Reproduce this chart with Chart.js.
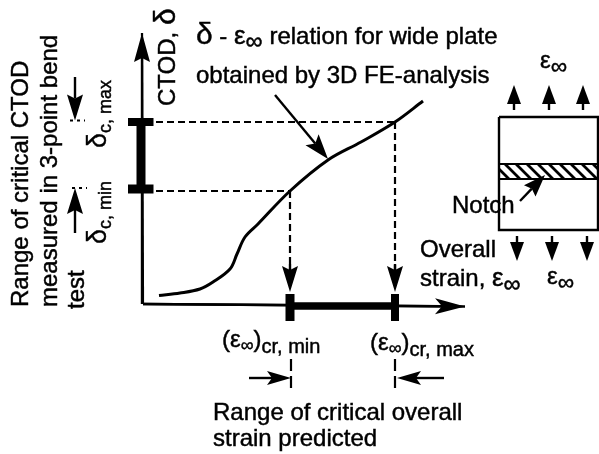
<!DOCTYPE html>
<html>
<head>
<meta charset="utf-8">
<script src="https://cdn.jsdelivr.net/npm/chart.js@4"></script>
<style>
  html, body { margin: 0; padding: 0; background: #fff; }
  #wrap { width: 599px; height: 454px; }
  #sketch { filter: blur(0.4px); }
</style>
</head>
<body>
<div id="wrap"><canvas id="sketch" width="599" height="454"></canvas></div>
<script>
// delta - strain curve for the wide plate, arbitrary units
const curveX = [16, 37, 57, 70, 87, 94, 102, 115, 147, 185, 218, 252, 280];
const curveY = [8.5, 11, 15, 22, 35, 50, 67, 80, 113, 144, 162, 182, 203];

// critical ranges
const strainCr = [147, 252];
const deltaCr = [113, 182];

const INK = "#000";
const FONT = '"Liberation Sans", Arial, sans-serif';

function line(xs, ys, width, dash) {
    return {
        data: xs.map((x, i) => ({ x: x, y: ys[i] })),
        showLine: true,
        borderColor: INK,
        borderWidth: width,
        borderDash: dash || [],
        pointRadius: 0,
        tension: 0,
        clip: false
    };
}

const curve = line(curveX, curveY, 3);
curve.tension = 0.35;

const datasets = [
    curve,
    // axes
    line([0, 322], [0, -2.5], 2.4),
    line([0, -1], [0, 271], 2.2),
    // range bars on the axes
    line([-2, -2], deltaCr, 9),
    line([-15, 10.5], [182, 182], 8),
    line([-15, 10.5], [115, 115], 9),
    line(strainCr, [-2, -2], 7.5),
    line([147, 147], [10, -17], 9),
    line([252, 252], [10, -17], 8),
    // projection lines
    line([13, 252], [182, 182], 2.2, [7, 4]),
    line([13, 147], [113, 113], 2.2, [7, 4]),
    line([147, 147], [113, 25], 2.2, [7, 4]),
    line([252, 252], [182, 25], 2.2, [7, 4]),
    // small ticks next to delta arrows
    line([-73, -58], [183.5, 183.5], 1.8, [3, 4]),
    line([-71, -56], [116, 116], 1.8, [3, 4]),
    // strain range drop lines
    line([148, 148], [-55, -88], 2.2, [12, 5]),
    line([252, 252], [-55, -87], 2.2, [12, 5]),
    // plate
    line([356, 455, 455, 356, 356], [187, 187, 74, 74, 187], 2.4),
    line([356, 455], [140, 140], 2.2),
    line([356, 455], [125, 125], 2.2)
];

// x0, y0 tail -> x1, y1 tip
const arrows = [
    [0, 0, 322, -2.5, 30, 8, 7],
    [-1, 0, -1, 271, 29, 8, 4],
    [147, 40, 147, 12, 26, 8, 4],
    [252, 40, 252, 12, 26, 8, 4],
    [-68, 227, -68, 183.5, 26, 8, 4],
    [-68, 71, -68, 116, 26, 8, 4],
    [132, 209, 185, 145, 25, 8.5, 5],
    [106, -74, 148, -74, 24, 7, 5],
    [301, -74, 254, -74, 24, 7, 5],
    [377, 103, 402, 129, 22, 8, 3],
    [371, 194, 371, 219, 19, 7, 0],
    [406, 194, 406, 219, 19, 7, 0],
    [440, 194, 440, 219, 19, 7, 0],
    [374, 68, 374, 43, 19, 7, 0],
    [409, 68, 409, 43, 19, 7, 0],
    [444, 68, 444, 43, 19, 7, 0]
];

function drawArrow(ctx, a, x, y) {
    const x0 = x(a[0]), y0 = y(a[1]), x1 = x(a[2]), y1 = y(a[3]);
    const len = Math.hypot(x1 - x0, y1 - y0);
    const ux = (x1 - x0) / len, uy = (y1 - y0) / len;
    const bx = x1 - ux * a[4], by = y1 - uy * a[4];
    ctx.beginPath();
    ctx.moveTo(x0, y0);
    ctx.lineTo(bx + ux * a[6], by + uy * a[6]);
    ctx.lineWidth = 2.4;
    ctx.strokeStyle = INK;
    ctx.stroke();
    ctx.beginPath();
    ctx.moveTo(x1, y1);
    ctx.lineTo(bx - uy * a[5], by + ux * a[5]);
    ctx.lineTo(bx + ux * a[6], by + uy * a[6]);
    ctx.lineTo(bx + uy * a[5], by - ux * a[5]);
    ctx.closePath();
    ctx.fillStyle = INK;
    ctx.fill();
}

// text runs: [string, size, baseline shift]
function runs(ctx, px, py, parts, rotated) {
    ctx.save();
    ctx.translate(px, py);
    if (rotated) ctx.rotate(-Math.PI / 2);
    ctx.fillStyle = INK;
    ctx.strokeStyle = INK;
    ctx.lineWidth = 0.45;
    ctx.textBaseline = "alphabetic";
    let pen = 0;
    parts.forEach(p => {
        ctx.font = p[1] + "px " + FONT;
        ctx.fillText(p[0], pen, p[2] || 0);
        ctx.strokeText(p[0], pen, p[2] || 0);
        pen += ctx.measureText(p[0]).width;
    });
    ctx.restore();
}

const sketch = {
    id: "sketch",
    afterDatasetsDraw(chart) {
        const ctx = chart.ctx;
        const x = v => chart.scales.x.getPixelForValue(v);
        const y = v => chart.scales.y.getPixelForValue(v);

        // hatched weld band
        const tile = document.createElement("canvas");
        tile.width = 11; tile.height = 11;
        const t = tile.getContext("2d");
        t.strokeStyle = INK; t.lineWidth = 2.8;
        t.beginPath();
        t.moveTo(-2, -2); t.lineTo(13, 13);
        t.moveTo(-2, 9); t.lineTo(2, 13);
        t.moveTo(9, -2); t.lineTo(13, 2);
        t.stroke();
        ctx.save();
        ctx.fillStyle = ctx.createPattern(tile, "repeat");
        ctx.fillRect(x(356), y(139), x(455) - x(356), y(126) - y(139));
        ctx.restore();

        arrows.forEach(a => drawArrow(ctx, a, x, y));

        runs(ctx, x(-115), y(-3), [["Range of critical CTOD", 24]], true);
        runs(ctx, x(-86), y(-3), [["measured in 3-point bend", 24]], true);
        runs(ctx, x(-59), y(-5), [["test", 24]], true);
        runs(ctx, x(-37), y(156), [["δ", 27], ["c, max", 18, 5]], true);
        runs(ctx, x(-37), y(60), [["δ", 27], ["c, min", 18, 5]], true);
        runs(ctx, x(32), y(198), [["CTOD, ", 24], ["δ", 30]], true);

        runs(ctx, x(53), y(260), [["δ", 30], [" - ", 24], ["ε", 26], ["∞", 24, 5], [" relation for wide plate", 24]]);
        runs(ctx, x(53), y(221), [["obtained by 3D FE-analysis", 24]]);

        runs(ctx, x(397), y(236), [["ε", 24], ["∞", 23, 6]]);
        runs(ctx, x(309), y(91), [["Notch", 24]]);
        runs(ctx, x(277), y(47), [["Overall", 24]]);
        runs(ctx, x(277), y(18), [["strain, ", 24], ["ε", 26], ["∞", 24, 6]]);
        runs(ctx, x(404), y(20), [["ε", 24], ["∞", 23, 6]]);

        runs(ctx, x(79), y(-43), [["(", 24], ["ε", 24], ["∞", 18, 4], [")", 24], ["cr, min", 20, 6]]);
        runs(ctx, x(227), y(-46), [["(", 24], ["ε", 24], ["∞", 18, 4], [")", 24], ["cr, max", 20, 6]]);

        runs(ctx, x(70), y(-116), [["Range of critical overall", 24]]);
        runs(ctx, x(70), y(-142), [["strain predicted", 24]]);
    }
};

new Chart(document.getElementById("sketch"), {
    type: "scatter",
    data: { datasets: datasets },
    plugins: [sketch],
    options: {
        responsive: false,
        animation: false,
        layout: { padding: { left: 143, right: 134, top: 34, bottom: 150 } },
        plugins: { legend: { display: false }, tooltip: { enabled: false } },
        scales: {
            x: { type: "linear", min: 0, max: 322, display: false },
            y: { type: "linear", min: 0, max: 270, display: false }
        }
    }
});
</script>
</body>
</html>
